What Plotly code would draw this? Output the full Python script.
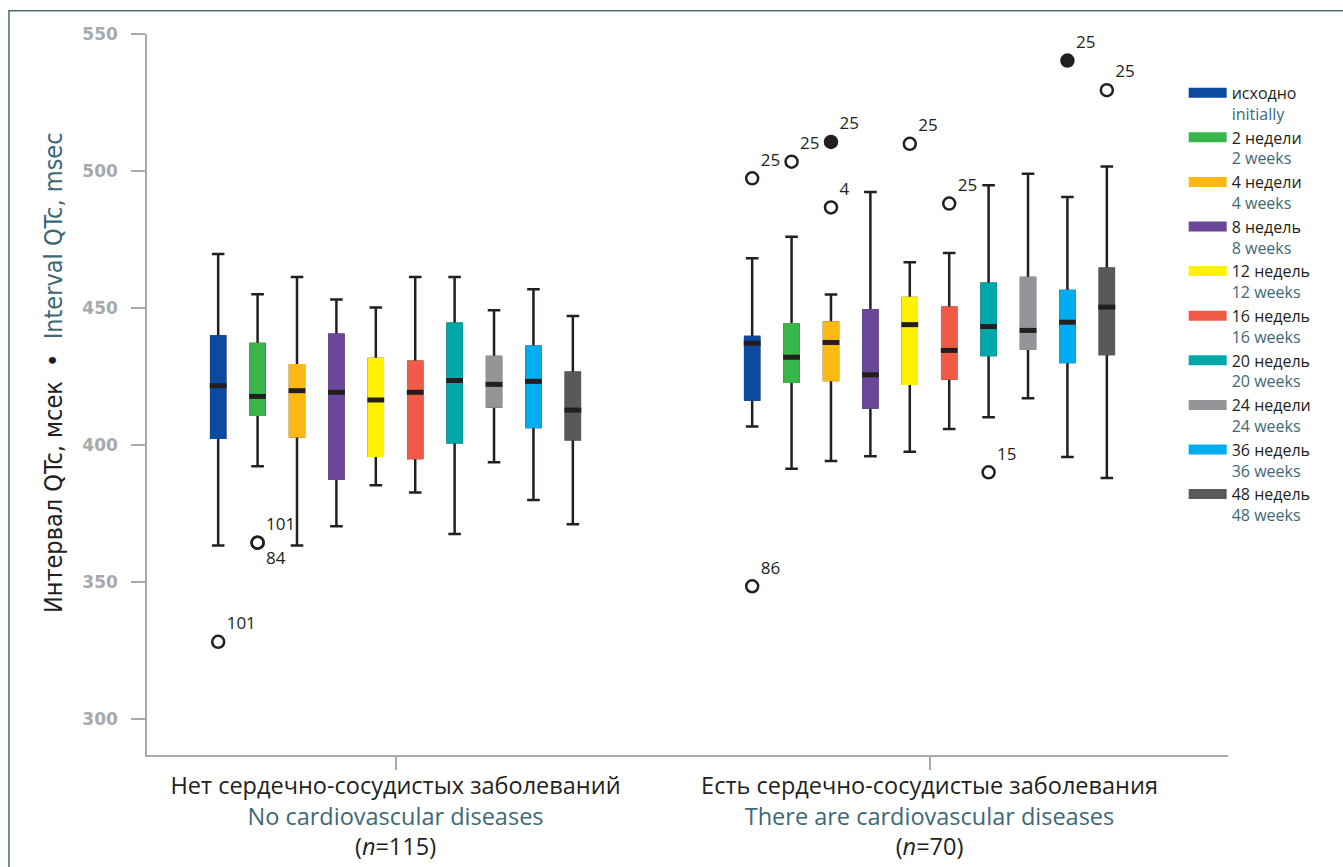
import plotly.graph_objects as go

# ---------------- data ----------------
groups_ru = ["Нет сердечно-сосудистых заболеваний", "Есть сердечно-сосудистые заболевания"]
groups_en = ["No cardiovascular diseases", "There are cardiovascular diseases"]
groups_n = [115, 70]

series_ru = ["исходно", "2 недели", "4 недели", "8 недель", "12 недель",
             "16 недель", "20 недель", "24 недели", "36 недель", "48 недель"]
series_en = ["initially", "2 weeks", "4 weeks", "8 weeks", "12 weeks",
             "16 weeks", "20 weeks", "24 weeks", "36 weeks", "48 weeks"]
colors = ["#0b4a9e", "#39b54a", "#fdb913", "#6a479b", "#fff200",
          "#f15a47", "#00a8a9", "#939598", "#00aeef", "#58595b"]

# each entry: [no CVD, CVD]
lower_whisker = [[363.3, 406.7], [392.2, 391.3], [363.3, 394.1], [370.3, 395.9], [385.3, 397.5],
                 [382.6, 405.8], [367.5, 410.1], [393.7, 417.0], [379.9, 395.6], [371.0, 387.9]]
q1 = [[402.6, 416.6], [411.0, 423.1], [403.2, 423.7], [387.7, 413.7], [396.0, 422.3],
      [395.2, 424.2], [401.0, 432.8], [414.0, 435.1], [406.5, 430.3], [402.1, 433.2]]
median = [[421.6, 437.1], [417.7, 432.0], [419.8, 437.4], [419.2, 425.6], [416.4, 443.9],
          [419.2, 434.5], [423.5, 443.2], [422.1, 441.8], [423.2, 444.8], [412.7, 450.3]]
q3 = [[439.6, 439.4], [436.8, 444.0], [429.1, 444.7], [440.2, 449.2], [431.4, 453.6],
      [430.4, 450.1], [444.2, 458.8], [432.1, 460.9], [435.8, 456.2], [426.3, 464.3]]
upper_whisker = [[469.7, 468.1], [455.0, 476.0], [461.3, 454.9], [453.1, 492.3], [450.2, 466.7],
                 [461.3, 470.1], [461.3, 494.8], [449.2, 499.0], [456.8, 490.5], [447.1, 501.6]]

# outliers: group index, series index, value, case label, filled (extreme), label side
out_group = [0, 0, 0, 1, 1, 1, 1, 1, 1, 1, 1, 1, 1]
out_series = [0, 1, 1, 0, 0, 1, 2, 2, 4, 5, 6, 8, 9]
out_value = [328.1, 364.3, 364.3, 497.3, 348.4, 503.4, 510.6, 486.7, 509.9, 488.1, 390.0, 540.3, 529.5]
out_label = ["101", "101", "84", "25", "86", "25", "25", "4", "25", "25", "15", "25", "25"]
out_filled = [False, False, False, False, False, False, True, False, False, False, False, True, False]
out_side = ["top right", "top right", "bottom right", "top right", "top right", "top right",
            "top right", "top right", "top right", "top right", "top right", "top right", "top right"]

y_ticks = [300, 350, 400, 450, 500, 550]

# ---------------- style ----------------
TEAL_TEXT = "#3d6877"
DARK = "#231f20"
AXIS_GREY = "#a7a9ac"
FONT = "Open Sans, Noto Sans, sans-serif"
step = 0.0738          # spacing between boxes inside a group (x units)
box_w = 0.0262         # box width (x units)


def pos(g, s):
    return g + (s - (len(series_ru) - 1) / 2) * step


fig = go.Figure()

for s, col in enumerate(colors):
    xs = [pos(g, s) for g in range(len(groups_ru))]
    # black whiskers layer
    fig.add_trace(go.Box(
        x=xs, q1=q1[s], median=median[s], q3=q3[s],
        lowerfence=lower_whisker[s], upperfence=upper_whisker[s],
        width=box_w, whiskerwidth=0.9, fillcolor=col,
        line=dict(color=DARK, width=2.5), boxpoints=False,
        showlegend=False, hoverinfo="skip"))
    # coloured box layer
    fig.add_trace(go.Box(
        x=xs, q1=q1[s], median=median[s], q3=q3[s],
        lowerfence=q1[s], upperfence=q3[s],
        width=box_w, whiskerwidth=0, fillcolor=col,
        line=dict(color=col, width=2.5), boxpoints=False,
        showlegend=False, hoverinfo="skip"))

# median bars
med_x, med_y = [], []
for s in range(len(series_ru)):
    for g in range(len(groups_ru)):
        med_x.append(pos(g, s))
        med_y.append(median[s][g])
fig.add_trace(go.Scatter(
    x=med_x, y=med_y, mode="markers", showlegend=False, hoverinfo="skip",
    marker=dict(symbol="line-ew", size=12, color=DARK, line=dict(width=5, color=DARK))))

# outliers
fig.add_trace(go.Scatter(
    x=[pos(g, s) for g, s in zip(out_group, out_series)],
    y=out_value, mode="markers+text", text=out_label, textposition=out_side,
    textfont=dict(family=FONT, size=17, color=DARK),
    showlegend=False, hoverinfo="skip", cliponaxis=False,
    marker=dict(symbol=["circle" if f else "circle-open" for f in out_filled],
                size=12, color=DARK, line=dict(width=2.5, color=DARK))))

# legend entries
for ru, en, col in zip(series_ru, series_en, colors):
    fig.add_trace(go.Scatter(
        x=[None], y=[None], mode="lines", line=dict(color=col, width=16),
        name=f"{ru}<br><span style='color:{TEAL_TEXT}'>{en}</span>"))

ticktext = [f"{ru}<br><span style='color:{TEAL_TEXT}'>{en}</span><br>(<i>n</i>={n})"
            for ru, en, n in zip(groups_ru, groups_en, groups_n)]

fig.update_layout(
    width=1343, height=867,
    margin=dict(l=147, r=115, t=34, b=112, autoexpand=False),
    paper_bgcolor="white", plot_bgcolor="white",
    boxmode="overlay",
    font=dict(family=FONT, color=DARK),
    xaxis=dict(range=[-0.4654, 1.559], tickvals=list(range(len(groups_ru))), ticktext=ticktext,
               showline=True, linecolor=AXIS_GREY, linewidth=1.5, ticks="outside",
               ticklen=13, tickcolor=AXIS_GREY, tickwidth=1.5, showgrid=False, zeroline=False,
               automargin=False, ticklabelstandoff=-4,
               tickfont=dict(family=FONT, size=23.5, color=DARK)),
    yaxis=dict(range=[286.8, 550], tickvals=y_ticks, showline=True, linecolor=AXIS_GREY,
               linewidth=1.5, ticks="outside", ticklen=14, tickcolor=AXIS_GREY, tickwidth=1.5,
               showgrid=False, zeroline=False, ticklabelstandoff=10, automargin=False,
               tickfont=dict(family="DejaVu Sans", size=17, color=AXIS_GREY, weight="bold")),
    legend=dict(x=0.959, y=0.942, xanchor="left", yanchor="top", valign="top",
                font=dict(family=FONT, size=16, color=DARK), itemwidth=38,
                tracegroupgap=0, bgcolor="rgba(0,0,0,0)"),
    annotations=[dict(
        text=f"Интервал QTc, мсек  •  <span style='color:{TEAL_TEXT}'>Interval QTc, msec</span>",
        textangle=-90, xref="paper", yref="paper", x=-0.087, y=0.531,
        xanchor="center", yanchor="middle", showarrow=False,
        font=dict(family="Liberation Sans Narrow, DejaVu Sans Condensed, sans-serif", size=25, color=DARK))],
    shapes=[dict(type="path", xref="paper", yref="paper",
                 path="M -0.1277,-0.2 L -0.1277,1.0323 L 1.2,1.0323",
                 line=dict(color="#4e6b79", width=1.5))],
)

fig.write_html("out.html", config={"displayModeBar": False},
               post_script="document.body.style.margin='0px';")
